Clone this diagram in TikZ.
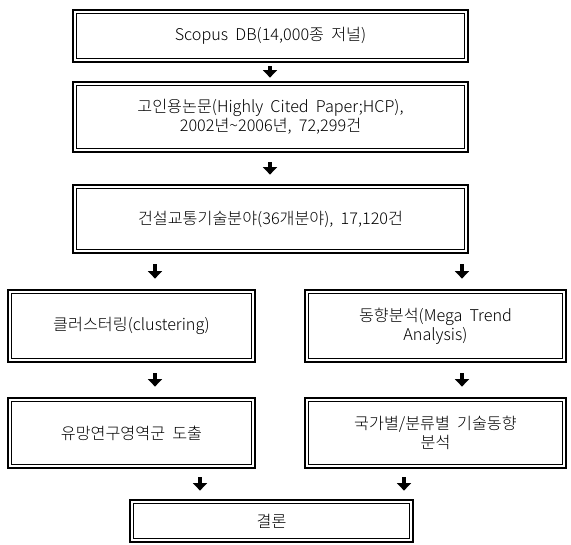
\documentclass[tikz,border=0pt]{standalone}
\usepackage{fontspec}
\setmainfont{Noto Sans CJK KR Light}[WordSpace=2.0]
\usetikzlibrary{arrows.meta}

\begin{document}
\begin{tikzpicture}[x=1pt, y=-1pt,
  box/.style={draw, line width=2.8pt, align=center, inner sep=0pt,
    font=\fontsize{16.2}{18.5}\selectfont,
    path picture={\draw[line width=1pt]
      ([shift={(3.8pt,-3.8pt)}]path picture bounding box.north west) rectangle
      ([shift={(-3.8pt,3.8pt)}]path picture bounding box.south east);}},
  harrow/.style={line width=3.8pt, -{Triangle[width=14pt, length=7.5pt]},
    shorten <=#1, shorten >=#1},
  harrow/.default=9pt
]
\useasboundingbox (0,0) rectangle (571,545);

% --- boxes ---
\node[box, minimum width=395pt, minimum height=52pt] (db) at (270.5,36)
  {Scopus DB(14,000종 저널)};
\node[box, minimum width=395pt, minimum height=70pt] (hcp) at (270.5,117)
  {고인용논문(Highly Cited Paper;HCP),\\ 2002년\textasciitilde2006년, 72,299건};
\node[box, minimum width=395pt, minimum height=68pt] (field) at (270.5,219)
  {건설교통기술분야(36개분야), 17,120건};

\node[box, minimum width=247pt, minimum height=72pt] (clus) at (131.5,326)
  {클러스터링(clustering)};
\node[box, minimum width=261pt, minimum height=72pt] (trend) at (435.5,326)
  {동향분석(Mega Trend\\ Analysis)};

\node[box, minimum width=247pt, minimum height=70pt] (area) at (131.5,433)
  {유망연구영역군 도출};
\node[box, minimum width=261pt, minimum height=70pt] (nation) at (435.5,433)
  {국가별/분류별 기술동향\\ 분석};

\node[box, minimum width=283pt, minimum height=42pt] (concl) at (271.5,521)
  {결론};

% --- arrow columns ---
\coordinate (xm) at (270,0);
\coordinate (xl) at (155,0);
\coordinate (xr) at (462,0);
\coordinate (xbl) at (200,0);
\coordinate (xbr) at (404,0);

% --- arrows ---
\draw[harrow=3pt] (db.south -| xm) -- (hcp.north -| xm);
\draw[harrow] (hcp.south -| xm) -- (field.north -| xm);

\draw[harrow=10pt] (field.south -| xl) -- (clus.north -| xl);
\draw[harrow=10pt] (field.south -| xr) -- (trend.north -| xr);

\draw[harrow=10pt] (clus.south -| xl) -- (area.north -| xl);
\draw[harrow=10pt] (trend.south -| xr) -- (nation.north -| xr);

\draw[harrow=8pt] (area.south -| xbl) -- (concl.north -| xbl);
\draw[harrow=8pt] (nation.south -| xbr) -- (concl.north -| xbr);

\end{tikzpicture}
\end{document}
